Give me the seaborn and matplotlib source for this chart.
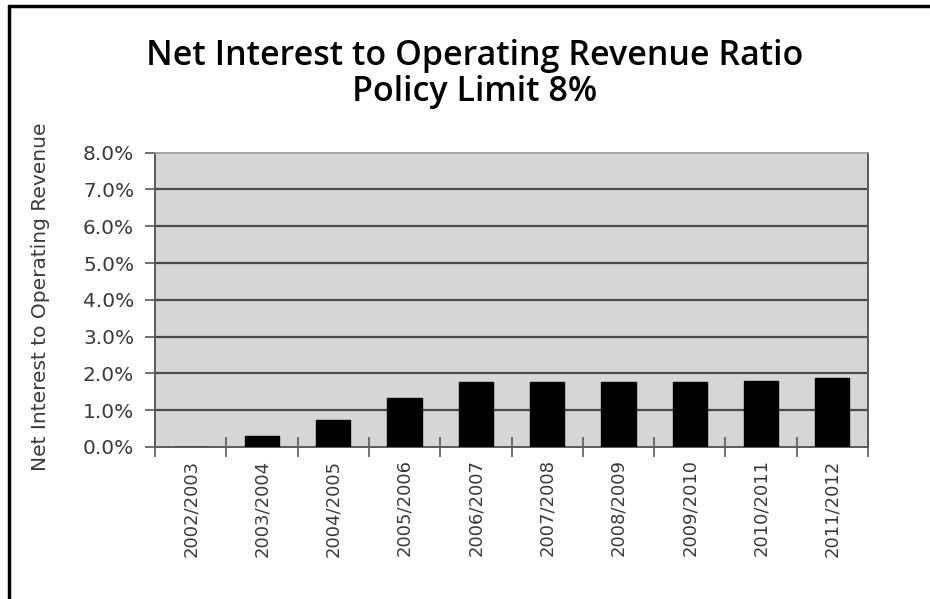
import matplotlib
matplotlib.use("Agg")
import matplotlib.pyplot as plt
from matplotlib.lines import Line2D
from matplotlib.ticker import FuncFormatter, FixedLocator
import seaborn as sns
import pandas as pd

# Fiscal years and net interest / operating revenue ratio (%)
years = ["2002/2003", "2003/2004", "2004/2005", "2005/2006", "2006/2007",
         "2007/2008", "2008/2009", "2009/2010", "2010/2011", "2011/2012"]
ratio_pct = [0.0, 0.29, 0.73, 1.34, 1.76, 1.76, 1.76, 1.76, 1.79, 1.88]
y_ticks = [0, 1, 2, 3, 4, 5, 6, 7, 8]

title_text = "Net Interest to Operating Revenue Ratio\nPolicy Limit 8%"
y_label = "Net Interest to Operating Revenue"

sns.set_theme(style="white")
plt.rcParams["font.family"] = ["DejaVu Sans"]

df = pd.DataFrame({"year": years, "ratio": ratio_pct})

fig = plt.figure(figsize=(9.3, 5.99), dpi=100)
ax = fig.add_axes([155 / 930, 1 - 447 / 599, (868 - 155) / 930, (447 - 152.7) / 599])
ax.set_facecolor("#d6d6d6")

sns.barplot(data=df, x="year", y="ratio", color="black", width=0.48,
            saturation=1, ax=ax, zorder=3)
for p in ax.patches:
    p.set_edgecolor("black")

ax.set_ylim(0, 8)
ax.set_xlim(-0.5, len(years) - 0.5)
ax.yaxis.set_major_locator(FixedLocator(y_ticks))
ax.yaxis.set_major_formatter(FuncFormatter(lambda v, _: f"{v:.1f}%"))

# horizontal gridlines
for v in y_ticks[1:-1]:
    ax.axhline(v, color="#4a4a4a", lw=1.6, zorder=1)

for side in ["left", "bottom", "right"]:
    ax.spines[side].set_color("#5a5a5a")
    ax.spines[side].set_linewidth(1.4)
ax.spines["top"].set_color("#9a9a9a")
ax.spines["top"].set_linewidth(1.2)

# category separators on x axis
ax.set_xticks([i - 0.5 for i in range(len(years) + 1)], minor=True)
ax.tick_params(axis="x", which="minor", length=14, width=1.2, direction="inout",
               color="#5a5a5a", bottom=True)
ax.tick_params(axis="x", which="major", length=0, pad=9, labelsize=13,
               labelcolor="#3a3a3a", labelrotation=90)
ax.tick_params(axis="y", which="major", length=7, width=1.2, direction="out",
               color="#5a5a5a", left=True, pad=8, labelsize=14.5, labelcolor="#3a3a3a")

ax.set_xlabel("")
ax.set_ylabel(y_label, fontsize=14.5, color="#3a3a3a")
ax.yaxis.set_label_coords(-0.147, 0.51)

fig.text(0.51, 1 - 74 / 599, title_text, ha="center", va="center",
         fontsize=24.5, fontweight="semibold", family=["Open Sans", "DejaVu Sans"],
         color="black", linespacing=1.1)

# frame lines along the top and left of the figure
fig.add_artist(Line2D([9 / 930, 1], [1 - 5.5 / 599] * 2, color="black", lw=2.5,
                      transform=fig.transFigure))
fig.add_artist(Line2D([9 / 930] * 2, [0, 1 - 5.5 / 599], color="black", lw=2.5,
                      transform=fig.transFigure))

fig.savefig("out.png", dpi=100)
